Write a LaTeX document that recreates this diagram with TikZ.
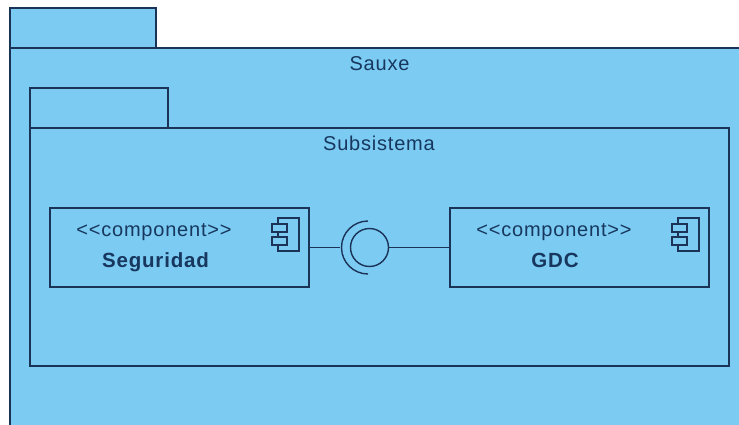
\documentclass[tikz,border=0pt]{standalone}
\usepackage{fontspec}
\setmainfont[LetterSpace=4]{Liberation Sans}
\definecolor{pkgfill}{HTML}{7BCBF2}
\definecolor{pkgline}{HTML}{1C3358}
\definecolor{txtcol}{HTML}{17375E}
\tikzset{
  box/.style={draw=pkgline,fill=pkgfill,line width=1.5pt,rectangle,inner sep=0pt,outer sep=0pt,anchor=north west},
  thin box/.style={box,line width=1.4pt},
  label text/.style={text=txtcol,inner sep=0pt,anchor=base,font=\fontsize{20}{24}\selectfont},
  bold text/.style={label text,font=\fontsize{20.5}{24}\selectfont\bfseries},
  wire/.style={draw=pkgline,line width=1.4pt},
  iconbox/.style={draw=pkgline,fill=pkgfill,line width=1.4pt,rectangle,inner sep=0pt,outer sep=0pt,minimum width=15pt,minimum height=8pt}
}
\newcommand{\compicon}[2]{%
  \node[iconbox,minimum width=21pt,minimum height=33pt,anchor=north west] (#2body) at (#1+6,218) {};
  \node[iconbox] (#2a) at (#1+7.5,228) {};
  \node[iconbox] (#2b) at (#1+7.5,241) {};
}
\begin{document}
\begin{tikzpicture}[x=1pt,y=-1pt]
\useasboundingbox (0,0) rectangle (739,425);
\clip (0,0) rectangle (739,425);
\fill[white] (0,0) rectangle (739,425);
% outer package
\node[box,minimum width=146pt,minimum height=40pt] (outertab) at (10,8) {};
\node[box,minimum width=760pt,minimum height=400pt] (outerbody) at (10,48) {};
\node[label text] (sauxe) at (379.5,71) {Sauxe};
% inner package
\node[box,minimum width=138pt,minimum height=40pt] (innertab) at (30,88) {};
\node[box,minimum width=699pt,minimum height=238pt] (innerbody) at (30,128) {};
\node[label text] (subsistema) at (379,151) {Subsistema};
% components
\node[thin box,minimum width=259pt,minimum height=79pt] (seg) at (50,208) {};
\node[thin box,minimum width=259pt,minimum height=79pt] (gdc) at (450,208) {};
\node[label text] (segst) at (154,236.5) {<{}<component>{}>};
\node[bold text] (segname) at (155.5,267) {Seguridad};
\node[label text] (gdcst) at (554,236.5) {<{}<component>{}>};
\node[bold text] (gdcname) at (555,267) {GDC};
\compicon{272}{segicon}
\compicon{672}{gdcicon}
% lollipop
\node[circle,draw=pkgline,line width=1.4pt,minimum size=38pt,inner sep=0pt,outer sep=0pt] (ball) at (369.5,247.5) {};
\coordinate (socket) at (340,247.5);
\draw[wire] (368,221) arc[start angle=-90,end angle=-270,radius=26.5] ;
\draw[wire] (seg.east |- socket) -- (socket);
\draw[wire] (ball.east) -- (gdc.west |- ball.east);
\end{tikzpicture}
\end{document}
